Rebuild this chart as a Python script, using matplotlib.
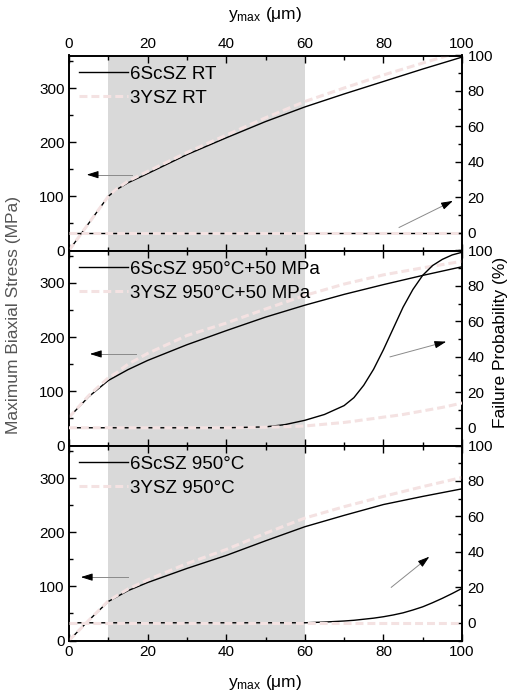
import matplotlib
matplotlib.use('Agg')
import matplotlib.pyplot as plt
from matplotlib.ticker import MultipleLocator

plt.rcParams['font.family'] = ['Liberation Sans', 'DejaVu Sans']
plt.rcParams['mathtext.fontset'] = 'custom'
plt.rcParams['mathtext.rm'] = 'Liberation Sans'
plt.rcParams['mathtext.it'] = 'Liberation Sans'

# y_max positions (um)
x = [0, 5, 10, 12, 15, 20, 30, 40, 50, 60, 70, 80, 90, 100]
x_fail = [0, 10, 20, 30, 40, 50, 55, 60, 65, 70, 72.5, 75, 77.5, 80,
          82.5, 85, 87.5, 90, 92.5, 95, 97.5, 100]

# room temperature
sc_rt = [0, 50, 100, 112, 125, 142, 177, 208, 238, 265, 289, 312, 335, 357]
ysz_rt = [0, 50, 100, 113, 128, 146, 181, 213, 245, 275, 300, 324, 346, 368]
sc_rt_fail = [0] * 22
ysz_rt_fail = [0] * 22

# 950 C + 50 MPa
sc_hp = [52, 90, 120, 128, 140, 157, 186, 212, 237, 259, 279, 297, 314, 330]
ysz_hp = [52, 92, 125, 134, 150, 170, 203, 226, 252, 277, 298, 315, 328, 340]
sc_hp_fail = [0, 0, 0, 0, 0, 0.5, 1.8, 4.2, 7.5, 12.5, 17, 24, 33, 44,
              56, 68, 78, 86, 91.5, 95, 97.5, 99]
ysz_hp_fail = [0, 0, 0, 0, 0, 0.3, 0.6, 1, 2, 3, 3.7, 4.5, 5.2, 6,
               6.7, 7.5, 8.5, 9.5, 10.5, 11.5, 12.7, 14]

# 950 C
sc_ht = [0, 37, 72, 80, 92, 107, 133, 157, 184, 210, 231, 251, 266, 280]
ysz_ht = [0, 37, 73, 82, 95, 112, 142, 168, 198, 226, 247, 266, 284, 301]
sc_ht_fail = [0, 0, 0, 0, 0, 0, 0, 0, 0.4, 1, 1.4, 2, 2.6, 3.4,
              4.4, 5.6, 7.2, 9, 11.3, 13.8, 16.5, 19.4]
ysz_ht_fail = [0] * 22

labels = [('6ScSZ RT', '3YSZ RT'),
          ('6ScSZ 950°C+50 MPa', '3YSZ 950°C+50 MPa'),
          ('6ScSZ 950°C', '3YSZ 950°C')]
stress = [(sc_rt, ysz_rt), (sc_hp, ysz_hp), (sc_ht, ysz_ht)]
fail = [(sc_rt_fail, ysz_rt_fail), (sc_hp_fail, ysz_hp_fail), (sc_ht_fail, ysz_ht_fail)]

# arrows: (tail, head) in data coordinates
left_arrows = [((16, 140), (4.5, 140)), ((17, 169), (5.3, 169)), ((15, 117), (3, 117))]
right_arrows = [((84, 3), (97.7, 18)), ((81.7, 40), (96, 48.6)), ((82, 20), (91.7, 37.3))]

pink = '#f4e2e2'
W, H = 510, 699
fig = plt.figure(figsize=(W / 100, H / 100), dpi=100)

panel_px = [(55.5, 250.5), (250.5, 445.5), (445.5, 640.5)]


def arrow(a, tail, head):
    px = head[0] + 0.18 * (tail[0] - head[0])
    py = head[1] + 0.18 * (tail[1] - head[1])
    a.plot([tail[0], px], [tail[1], py], color='#8a8a8a', lw=0.7, zorder=5)
    a.annotate('', xy=head, xytext=(px, py),
               arrowprops=dict(arrowstyle='-|>,head_length=0.7,head_width=0.22',
                               color='black', lw=0.7, shrinkA=0, shrinkB=0),
               zorder=6)


for i, (top, bot) in enumerate(panel_px):
    ax = fig.add_axes([69 / W, 1 - bot / H, 393 / W, (bot - top) / H])
    ax2 = ax.twinx()

    ax.axvspan(10, 60, color='#d9d9d9', lw=0, zorder=0)

    sc, ysz = stress[i]
    ax.plot(x, sc, color='black', lw=1.0, label=labels[i][0], zorder=3)
    ax.plot(x, ysz, color=pink, lw=2.2, ls=(0, (2.6, 1.3)), label=labels[i][1], zorder=4)

    scf, yszf = fail[i]
    ax2.plot(x_fail, scf, color='black', lw=1.0, zorder=3)
    ax2.plot(x_fail, yszf, color=pink, lw=2.2, ls=(0, (2.6, 1.3)), zorder=4)

    arrow(ax, *left_arrows[i])
    arrow(ax2, *right_arrows[i])

    ax.set_xlim(0, 100)
    ax.set_ylim(0, 360)
    ax2.set_ylim(-10, 100)

    ax.xaxis.set_major_locator(MultipleLocator(20))
    ax.xaxis.set_minor_locator(MultipleLocator(10))
    ax.yaxis.set_major_locator(MultipleLocator(100))
    ax.yaxis.set_minor_locator(MultipleLocator(50))
    ax2.yaxis.set_major_locator(MultipleLocator(20))
    ax2.yaxis.set_minor_locator(MultipleLocator(10))
    ax2.set_yticks(range(0, 101, 20))

    ax.tick_params(which='both', direction='in', top=True, bottom=True,
                   labelsize=11, width=1.0, pad=3)
    ax.tick_params(which='major', length=5)
    ax.tick_params(which='minor', length=3)
    ax2.tick_params(which='both', direction='in', labelsize=11, width=1.0, pad=4)
    ax2.tick_params(which='major', length=5)
    ax2.tick_params(which='minor', length=3)

    if i == 0:
        ax.tick_params(labeltop=True, labelbottom=False)
    elif i == 1:
        ax.tick_params(labelbottom=False)

    for a in (ax, ax2):
        for s in a.spines.values():
            s.set_linewidth(1.2)

    ax.legend(loc='upper left', frameon=False, fontsize=13.5, handlelength=2.6,
              handletextpad=0.1, borderpad=0.2, borderaxespad=0.35, labelspacing=0.35)

fig.text(265 / W, 1 - 15 / H, r'y$_{\mathrm{max}}$ (μm)', ha='center', va='center', fontsize=12.5)
fig.text(265 / W, 1 - 683 / H, r'y$_{\mathrm{max}}$ (μm)', ha='center', va='center', fontsize=12.5)
fig.text(14 / W, 1 - 315 / H, 'Maximum Biaxial Stress (MPa)', rotation=90,
         ha='center', va='center', fontsize=12.5, color='#555555')
fig.text(501 / W, 1 - 342 / H, 'Failure Probability (%)', rotation=90,
         ha='center', va='center', fontsize=12.5)

fig.savefig('out.png', dpi=100)
